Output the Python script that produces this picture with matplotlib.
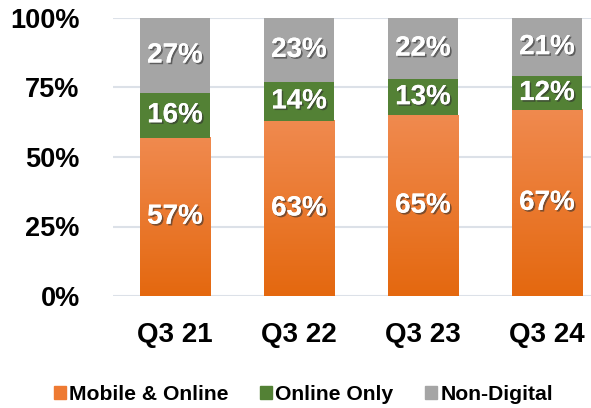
import numpy as np
import matplotlib.pyplot as plt
import matplotlib.patheffects as pe
from matplotlib.patches import Patch
from matplotlib.colors import LinearSegmentedColormap

plt.rcParams['font.family'] = ['Liberation Sans', 'DejaVu Sans']
plt.rcParams['font.weight'] = 'bold'

quarters = ['Q3 21', 'Q3 22', 'Q3 23', 'Q3 24']
mobile_online = [57, 63, 65, 67]
online_only = [16, 14, 13, 12]
non_digital = [27, 23, 22, 21]
series_names = ['Mobile & Online', 'Online Only', 'Non-Digital']
y_ticks = [0, 25, 50, 75, 100]

orange_cmap = LinearSegmentedColormap.from_list('org', ['#E4680F', '#F08A4F'])
green = '#538135'
gray = '#A5A5A5'
width = 0.565

fig = plt.figure(figsize=(5.91, 4.08), dpi=100)
ax = fig.add_axes([113 / 591, 112 / 408, 478 / 591, 278 / 408])

x = np.arange(len(quarters))
shadow = [pe.withSimplePatchShadow(offset=(1.2, -1.2), shadow_rgbFace='#303030', alpha=0.6), pe.Normal()]

grad = np.linspace(0, 1, 256).reshape(-1, 1)
for xi, m in zip(x, mobile_online):
    ax.imshow(grad, extent=(xi - width / 2, xi + width / 2, 0, m), origin='lower',
              aspect='auto', cmap=orange_cmap, zorder=2)

ax.bar(x, online_only, width, bottom=mobile_online, color=green, zorder=2)
bottom2 = np.array(mobile_online) + np.array(online_only)
ax.bar(x, non_digital, width, bottom=bottom2, color=gray, zorder=2)

for xi, m, o, n in zip(x, mobile_online, online_only, non_digital):
    for val, base in [(m, 0), (o, m), (n, m + o)]:
        ax.text(xi, base + val / 2, f'{val}%', ha='center', va='center', color='white',
                fontsize=20, fontweight='bold', path_effects=shadow, zorder=4)

ax.set_xlim(-0.5, 3.355)
ax.set_ylim(0, 100)
ax.set_yticks(y_ticks)
ax.set_yticklabels([f'{t}%' for t in y_ticks], fontsize=19.5, fontweight='bold')
ax.set_xticks(x)
ax.set_xticklabels(quarters, fontsize=20, fontweight='bold')
ax.tick_params(axis='x', length=0, pad=19)
ax.tick_params(axis='y', length=0, pad=24)
ax.yaxis.grid(True, color='#DCE1E8', linewidth=1.5, zorder=0)
ax.set_axisbelow(True)
for s in ax.spines.values():
    s.set_visible(False)

handles = [Patch(color='#EE7A32'), Patch(color=green), Patch(color=gray)]
fig.legend(handles, series_names, loc='center', bbox_to_anchor=(303.5 / 591, 14 / 408), ncol=3,
           frameon=False, prop={'size': 15.2, 'weight': 'bold'}, handlelength=0.57,
           handleheight=0.57, handletextpad=0.15, columnspacing=1.5)

fig.savefig('out.png', dpi=100)
